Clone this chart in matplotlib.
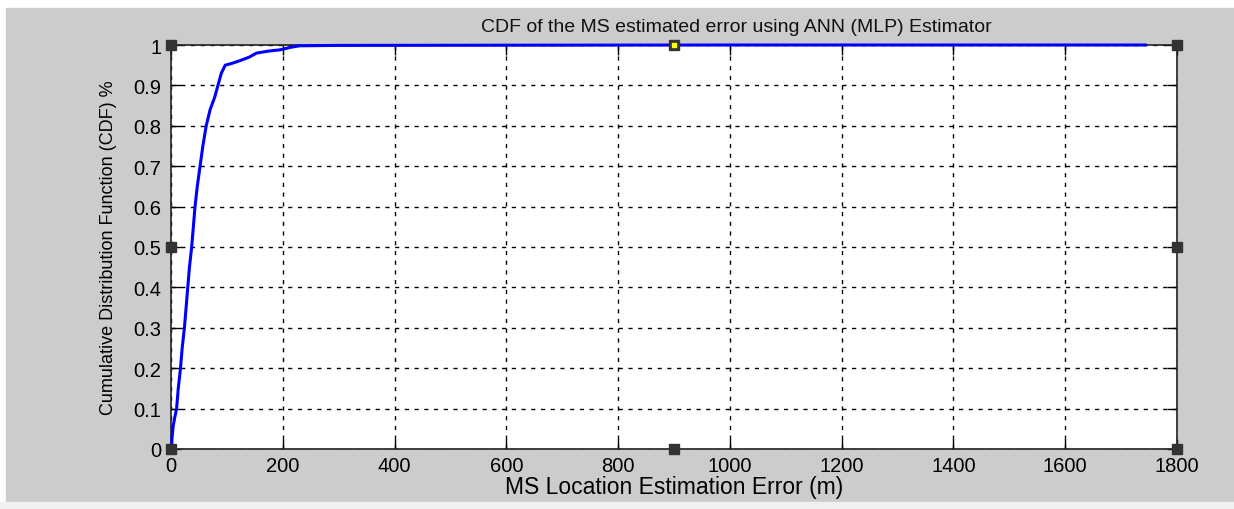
import numpy as np
import matplotlib
matplotlib.use('Agg')
import matplotlib.pyplot as plt
from matplotlib.patches import Rectangle

# CDF of the location error
err_m = [0, 1, 2, 4, 7, 10, 13, 17, 20, 24, 27, 30, 33, 37, 40, 43, 47, 52, 57,
         63, 70, 78, 84, 90, 97, 110, 123, 140, 153, 175, 195, 213, 230, 300,
         600, 1000, 1743]
cdf = [0, 0.0, 0.03, 0.058, 0.08, 0.1, 0.15, 0.2, 0.25, 0.3, 0.35, 0.4, 0.45,
       0.5, 0.55, 0.6, 0.65, 0.7, 0.75, 0.8, 0.84, 0.87, 0.9, 0.93, 0.95, 0.955,
       0.961, 0.97, 0.98, 0.985, 0.988, 0.994, 0.998, 0.999, 0.9995, 1.0, 1.0]

x_ticks = [0, 200, 400, 600, 800, 1000, 1200, 1400, 1600, 1800]
y_ticks = [0, 0.1, 0.2, 0.3, 0.4, 0.5, 0.6, 0.7, 0.8, 0.9, 1]
y_tick_labels = ['0', '0.1', '0.2', '0.3', '0.4', '0.5', '0.6', '0.7', '0.8', '0.9', '1']

# edit-mode handles (corners and midpoints)
handle_x = [0, 0, 0, 900, 900, 1800, 1800, 1800]
handle_y = [0, 0.5, 1, 0, 1, 0, 0.5, 1]

plt.rcParams['font.family'] = ['Liberation Sans', 'DejaVu Sans']

W, H = 1234, 510
fig = plt.figure(figsize=(W / 100, H / 100), dpi=100, facecolor='white')
# grey window area
fig.patches.append(Rectangle((6 / W, 1 - 503 / H), 1, (503 - 9) / H,
                             transform=fig.transFigure, color='#cccccc', zorder=-10))
fig.patches.append(Rectangle((0, 0), 1, 1 - 503 / H,
                             transform=fig.transFigure, color='#f0f0f0', zorder=-10))

ax = fig.add_axes([171 / W, 1 - 450 / H, (1177 - 171) / W, (450 - 46) / H])
ax.set_facecolor('white')

ax.plot(err_m, cdf, color='#0000ff', linewidth=2.2, zorder=5, clip_on=False)

ax.set_xlim(0, 1800)
ax.set_ylim(0, 1)
ax.set_xticks(x_ticks)
ax.set_yticks(y_ticks)
ax.set_yticklabels(y_tick_labels)
ax.grid(True, color='black', linestyle=(0, (3, 4)), linewidth=1.0)
ax.tick_params(direction='in', length=7, width=1, top=True, right=True,
               labelsize=14.5, colors='black', pad=5)
ax.tick_params(axis='y', pad=7)
for s in ax.spines.values():
    s.set_linewidth(1.2)
    s.set_color('#222222')

ax.set_title('CDF of the MS estimated error using ANN (MLP) Estimator',
             fontsize=14, pad=10, color='#111111', x=0.5616)
ax.set_xlabel('MS Location Estimation Error (m)', fontsize=16.5, labelpad=0)
ax.set_ylabel('Cumulative Distribution Function (CDF) %', fontsize=13, labelpad=12)

ax.plot(handle_x, handle_y, 's', color='#333333', markersize=7,
        clip_on=False, zorder=10)
ax.plot([900], [1], 's', color='#ffff00', markersize=3, clip_on=False, zorder=11)

plt.savefig('out.png', dpi=100, facecolor=fig.get_facecolor())
